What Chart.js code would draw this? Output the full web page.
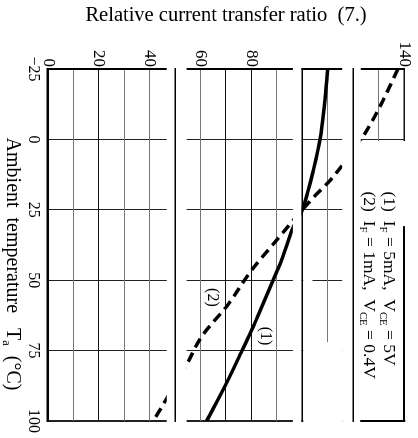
<!DOCTYPE html>
<html><head><meta charset="utf-8">
<script src="https://cdn.jsdelivr.net/npm/chart.js@4.4.1/dist/chart.umd.min.js"></script>
<style>
html,body{margin:0;padding:0;overflow:hidden;background:#fff;width:418px;height:438px;}
#wrap{position:absolute;left:0;top:0;width:438px;height:418px;transform-origin:0 0;transform:translate(418px,0) rotate(90deg);}
</style></head><body>
<div id="wrap"><canvas id="c" width="438" height="418" style="width:438px;height:418px"></canvas></div>
<script>
// ---- data ----
const temperatureTicks = [-25, 0, 25, 50, 75, 100];
const ratioTickLabels = [0, 20, 40, 60, 80, 140];
const seriesNames = ['(1)', '(2)'];
const ta1 = [-25, -12.5, 0, 11.5, 18.5, 25, 31.5, 37.5, 44.4, 50, 62.5, 66.6, 75, 86, 100];
const ratio1 = [110, 108.7, 107, 104.2, 102.2, 100, 96.3, 93.9, 91.2, 88.5, 82.6, 80.7, 76.3, 70.5, 62.4];
const ta2 = [-25, -12.5, 0, 9.4, 15, 20, 25, 28, 34.4, 46.2, 59, 70, 80, 92, 100];
const ratio2 = [137.6, 131, 123.2, 115.6, 110.5, 105, 100, 97.1, 91.2, 80.3, 70.5, 60.4, 54.5, 46.7, 41.4];
const xTitleParts = [{t:'Ambient  temperature   T'},{t:'a',sub:true},{t:'  (\u00b0C)'}];
const yTitle = 'Relative current transfer ratio  (7.)';
const legendLines = [
  [{t:'(1)  I'},{t:'F',sub:true},{t:' = 5mA,  V'},{t:'CE',sub:true},{t:' = 5V'}],
  [{t:'(2)  I'},{t:'F',sub:true},{t:' = 1mA,  V'},{t:'CE',sub:true},{t:' = 0.4V'}]
];

// ---- styling / layout helpers ----
const FONT = "'Liberation Serif','Times New Roman',serif";
const darkGrid = [20, 70, 80];
const eraseBoxes = [ // [ratioLow, ratioHigh, taLow, taHigh] in data units
  [46.7, 54.5, -26.5, 101.5],
  [96.3, 99.7, -26.5, 101.5],
  [115.7, 123, -26.5, 101.5],
  [100.4, 115.7, 72, 101.5],
  [100.4, 104, 30, 72],
  [122.9, 142, 0.6, 101.5]
];
const breakLines = [50, 100, 120];

function richWidth(ctx, parts, size) {
  let w = 0;
  for (const p of parts) { ctx.font = `${p.sub ? size * 0.62 : size}px ${FONT}`; w += ctx.measureText(p.t).width; }
  return w;
}
function drawRich(ctx, parts, x, y, size) {
  let cx = x;
  for (const p of parts) {
    ctx.font = `${p.sub ? size * 0.62 : size}px ${FONT}`;
    ctx.fillText(p.t, cx, y + (p.sub ? size * 0.3 : 0));
    cx += ctx.measureText(p.t).width;
  }
}

const overlay = {
  id: 'overlay',
  afterDatasetsDraw(chart) {
    const {ctx, scales: {x, y}} = chart;
    const X = v => x.getPixelForValue(v), Y = v => y.getPixelForValue(v);
    ctx.save();
    ctx.fillStyle = '#fff';
    for (const [r0, r1, t0, t1] of eraseBoxes) {
      ctx.fillRect(X(t0), Y(r1), X(t1) - X(t0), Y(r0) - Y(r1));
    }
    ctx.strokeStyle = '#000';
    ctx.lineWidth = 1.5;
    for (const r of breakLines) {
      ctx.beginPath(); ctx.moveTo(X(-25) - 1, Y(r)); ctx.lineTo(X(100) + 1, Y(r)); ctx.stroke();
    }
    // legend box
    ctx.lineWidth = 2;
    ctx.beginPath(); ctx.moveTo(X(30.8), Y(140)); ctx.lineTo(X(100), Y(140));
    ctx.moveTo(X(100), Y(122.8)); ctx.lineTo(X(100), Y(140.5)); ctx.stroke();
    // legend text
    ctx.fillStyle = '#000';
    ctx.textBaseline = 'middle';
    ctx.textAlign = 'left';
    const rows = [133.9, 126.0];
    legendLines.forEach((parts, i) => drawRich(ctx, parts, X(18.5), Y(rows[i]), 17.5));
    // curve labels
    ctx.font = `16px ${FONT}`;
    ctx.textAlign = 'center';
    ctx.fillText(seriesNames[0], X(69.8), Y(85.3));
    ctx.fillText(seriesNames[1], X(56.1), Y(64.5));
    // x axis title with subscript
    ctx.textAlign = 'left';
    const ts = 20;
    const w = richWidth(ctx, xTitleParts, ts);
    const cx = (x.left + x.right) / 2 + 19;
    drawRich(ctx, xTitleParts, cx - w / 2, x.bottom - 12.5, ts);
    ctx.restore();
  }
};

new Chart(document.getElementById('c'), {
  type: 'line',
  data: { datasets: [
    { label: seriesNames[0], data: ta1.map((t, i) => ({x: t, y: ratio1[i]})),
      borderColor: '#000', borderWidth: 3.5, pointRadius: 0, cubicInterpolationMode: 'monotone', fill: false },
    { label: seriesNames[1], data: ta2.map((t, i) => ({x: t, y: ratio2[i]})),
      borderColor: '#000', borderWidth: 3.5, borderDash: [10, 6], pointRadius: 0, cubicInterpolationMode: 'monotone', fill: false }
  ]},
  options: {
    responsive: false, animation: false, devicePixelRatio: 1,
    layout: { padding: { top: 14, right: 13, bottom: 0, left: 0 } },
    plugins: { legend: { display: false }, tooltip: { enabled: false } },
    scales: {
      x: {
        type: 'linear', position: 'bottom', min: -25, max: 100,
        afterBuildTicks: s => { s.ticks = temperatureTicks.map(v => ({value: v})); },
        ticks: { font: { family: FONT, size: 16 }, color: '#000', padding: 5, maxRotation: 0, autoSkip: false,
                 callback: v => v < 0 ? '\u2212' + Math.abs(v) : String(v) },
        grid: { drawTicks: false, color: '#222', lineWidth: c => (c.tick && c.tick.value === 100) ? 2 : 1 },
        border: { display: true, color: '#000', width: 2.5 },
        title: { display: false },
        afterFit: s => { s.height = 48; }
      },
      y: {
        type: 'linear', position: 'left', min: 0, max: 140,
        ticks: { stepSize: 10, autoSkip: false, font: { family: FONT, size: 17 }, color: '#000', padding: 2,
                 callback: v => ratioTickLabels.includes(v) ? String(v) : '' },
        grid: { drawTicks: false,
                color: c => (c.tick && (darkGrid.includes(c.tick.value) || c.tick.value === 140)) ? '#111' : '#777',
                lineWidth: c => (c.tick && c.tick.value === 140) ? 1.5 : 1 },
        border: { display: true, color: '#000', width: 2 },
        title: { display: true, text: yTitle, font: { family: FONT, size: 20.5 }, color: '#000', padding: { top: 3, bottom: 0 } },
        afterFit: s => { s.width = 69; }
      }
    }
  },
  plugins: [overlay]
});
</script>
</body></html>
